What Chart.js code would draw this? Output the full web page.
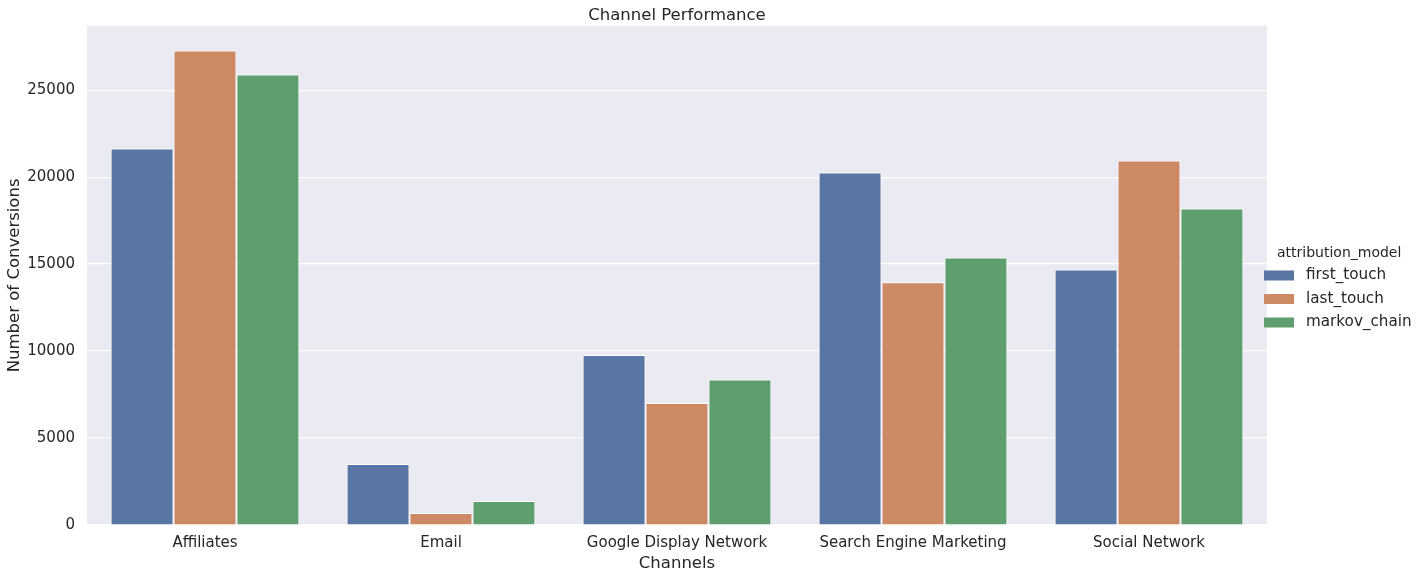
<!DOCTYPE html>
<html>
<head>
<meta charset="utf-8">
<script src="https://cdn.jsdelivr.net/npm/chart.js@4/dist/chart.umd.min.js"></script>
<style>
html,body{margin:0;padding:0;background:#fff;}
#wrap{width:1427px;height:579px;position:relative;}
</style>
</head>
<body>
<div id="wrap"><canvas id="c" width="1427" height="579"></canvas></div>
<script>
const categories = ["Affiliates", "Email", "Google Display Network", "Search Engine Marketing", "Social Network"];
const firstTouch = [21650, 3500, 9770, 20270, 14690];
const lastTouch = [27280, 690, 7010, 13960, 20960];
const markovChain = [25900, 1380, 8370, 15380, 18200];
const seriesNames = ["first_touch", "last_touch", "markov_chain"];
const seriesColors = ["#5975a4", "#cc8963", "#5f9e6e"];
const yTicks = [0, 5000, 10000, 15000, 20000, 25000];
const yMax = 28700;

const textColor = "#262626";
const FONT = "'DejaVu Sans', sans-serif";

const bgPlugin = {
  id: "bg",
  beforeDraw(chart) {
    const {ctx, chartArea: a} = chart;
    ctx.save();
    ctx.fillStyle = "#eaeaf2";
    ctx.fillRect(a.left, a.top, a.right - a.left, a.bottom - a.top);
    ctx.restore();
  }
};

const legendPlugin = {
  id: "customLegend",
  afterDraw(chart) {
    const ctx = chart.ctx;
    ctx.save();
    ctx.fillStyle = textColor;
    ctx.textBaseline = "middle";
    ctx.textAlign = "left";
    ctx.font = "14px " + FONT;
    ctx.fillText("attribution_model", 1277, 253);
    const ys = [275.5, 299, 322.5];
    chart.data.datasets.forEach((ds, i) => {
      ctx.fillStyle = ds.backgroundColor;
      ctx.fillRect(1264, ys[i] - 5, 30, 10);
      ctx.fillStyle = textColor;
      ctx.font = "15.2px " + FONT;
      ctx.fillText(ds.label, 1306, ys[i]);
    });
    ctx.restore();
  }
};

const datasets = [firstTouch, lastTouch, markovChain].map((vals, i) => ({
  label: seriesNames[i],
  data: vals,
  backgroundColor: seriesColors[i],
  borderColor: "#ffffff",
  borderWidth: 1,
  categoryPercentage: 0.8,
  barPercentage: 1.0
}));

new Chart(document.getElementById("c"), {
  type: "bar",
  data: { labels: categories, datasets },
  plugins: [bgPlugin, legendPlugin],
  options: {
    responsive: false,
    animation: false,
    devicePixelRatio: 1,
    layout: { padding: { left: 0, right: 160, top: 0, bottom: 0 } },
    plugins: {
      legend: { display: false },
      tooltip: { enabled: false },
      title: {
        display: true,
        fullSize: false,
        text: "Channel Performance",
        color: textColor,
        font: { family: FONT, size: 16.5, weight: "normal" },
        padding: { top: 6, bottom: 0 }
      }
    },
    scales: {
      x: {
        type: "category",
        offset: true,
        grid: { display: false, drawTicks: false },
        border: { display: false },
        ticks: { color: textColor, font: { family: FONT, size: 15 }, padding: 9, maxRotation: 0, autoSkip: false },
        title: { display: true, text: "Channels", color: textColor, font: { family: FONT, size: 16.5 }, padding: { top: 0, bottom: 5 } },
        afterFit(scale) { scale.height = 54; }
      },
      y: {
        min: 0,
        max: yMax,
        grid: { color: "#ffffff", lineWidth: 1.2, drawTicks: false },
        border: { display: false },
        ticks: {
          stepSize: 5000, color: textColor, font: { family: FONT, size: 15 }, padding: 12,
          callback: (v) => String(v)
        },
        afterBuildTicks(scale) { scale.ticks = yTicks.map(v => ({ value: v })); },
        title: { display: true, text: "Number of Conversions", color: textColor, font: { family: FONT, size: 16.5 }, padding: { top: 5, bottom: 0 } },
        afterFit(scale) { scale.width = 87; }
      }
    }
  }
});
</script>
</body>
</html>
